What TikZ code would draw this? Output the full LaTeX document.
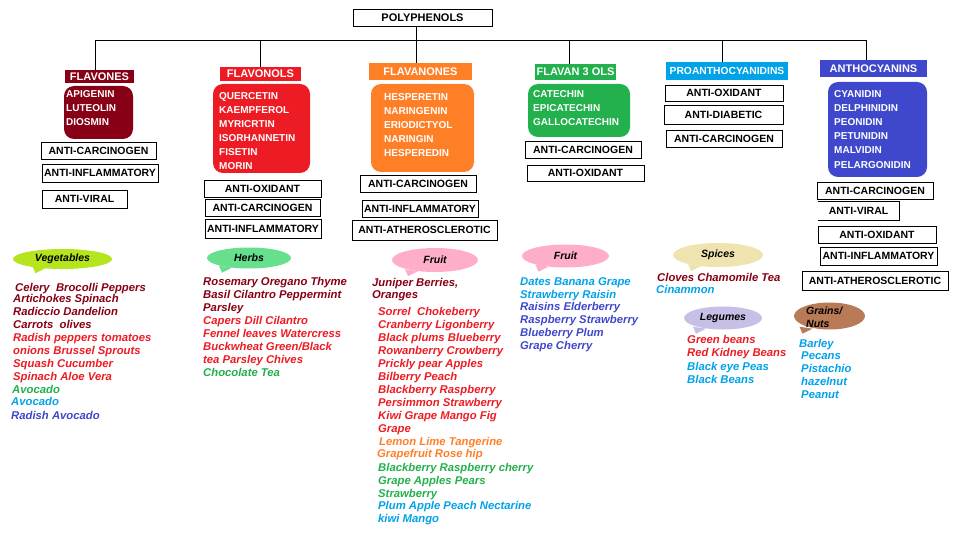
\documentclass[tikz,border=0pt]{standalone}
\usepackage{fontspec}
\setmainfont{Liberation Sans}
\usetikzlibrary{shapes.geometric,calc}
\definecolor{cdred}{HTML}{880015}
\definecolor{cred}{HTML}{ED1C24}
\definecolor{corange}{HTML}{FF7F27}
\definecolor{cgreen}{HTML}{22B14C}
\definecolor{cblue}{HTML}{00A2E8}
\definecolor{cindigo}{HTML}{3F48CC}
\definecolor{clime}{HTML}{B5E61D}
\definecolor{cherb}{HTML}{66E08C}
\definecolor{cpink}{HTML}{FFAEC9}
\definecolor{ctan}{HTML}{EFE4B0}
\definecolor{clav}{HTML}{C8BFE7}
\definecolor{cbrown}{HTML}{B97A57}
\tikzset{
 hdr/.style={rectangle, inner sep=0pt, text=white, font=\fontsize{11}{12}\selectfont\bfseries},
 bodybox/.style={rectangle, rounded corners=10pt, inner sep=0pt},
 bodytxt/.style={anchor=base west, inner sep=0pt, text=white, font=\fontsize{10}{12}\selectfont\bfseries},
 ben/.style={rectangle, draw=black, line width=0.9pt, inner sep=0pt, font=\fontsize{10.5}{12}\selectfont\bfseries},
 item/.style={anchor=base west, inner sep=0pt, font=\fontsize{11.3}{13}\selectfont\bfseries\itshape},
 bub/.style={ellipse, inner sep=0pt, font=\fontsize{10.5}{12}\selectfont\bfseries\itshape},
 link/.style={draw=black, line width=0.9pt},
}
\newcommand\bubtail[2]{\fill[#2] ($(#1.south)+(-30,-3)$) -- ($(#1.south)+(-27,4)$) -- ($(#1.south)+(-17,-1)$) -- cycle;}
\begin{document}
\begin{tikzpicture}[x=1pt,y=-1pt]
\useasboundingbox[fill=white] (0,0) rectangle (960,540);

% root
\node[ben, minimum width=139, minimum height=17, font=\fontsize{11}{12}\selectfont\bfseries] (poly) at (422.5,17.5) {POLYPHENOLS};

% headers
\node[hdr, fill=cdred, minimum width=69, minimum height=13] (fvn) at (99.5,76.5) {FLAVONES};
\node[hdr, fill=cred, minimum width=81, minimum height=14] (fvl) at (260.5,74) {FLAVONOLS};
\node[hdr, fill=corange, minimum width=103, minimum height=17] (fnn) at (420.5,71.5) {FLAVANONES};
\node[hdr, fill=cgreen, minimum width=81, minimum height=16] (f3o) at (575.5,72) {FLAVAN 3 OLS};
\node[hdr, fill=cblue, minimum width=122, minimum height=18, font=\fontsize{10.3}{12}\selectfont\bfseries] (pro) at (727,71) {PROANTHOCYANIDINS};
\node[hdr, fill=cindigo, minimum width=107, minimum height=17] (ant) at (873.5,68.5) {ANTHOCYANINS};

% connectors
\coordinate (j1) at (95,40);
\coordinate (j2) at (260,40);
\coordinate (j3) at (416,40);
\coordinate (j4) at (569,40);
\coordinate (j5) at (722,40);
\coordinate (j6) at (866,40);
\draw[link] (j1) -- (j6);
\draw[link] (j1) -- (j1 |- fvn.north);
\draw[link] (j2) -- (j2 |- fvl.north);
\draw[link] (poly.south -| j3) -- (j3 |- fnn.north);
\draw[link] (j4) -- (j4 |- f3o.north);
\draw[link] (j5) -- (j5 |- pro.north);
\draw[link] (j6) -- (j6 |- ant.north);

% bodies
\node[bodybox, fill=cdred, minimum width=69, minimum height=53] (fvnb) at (98.5,112.5) {};
\node[bodybox, fill=cred, minimum width=97, minimum height=89] (fvlb) at (261.5,128.5) {};
\node[bodybox, fill=corange, minimum width=103, minimum height=88] (fnnb) at (422.5,128) {};
\node[bodybox, fill=cgreen, minimum width=102, minimum height=53] (f3ob) at (579,110.5) {};
\node[bodybox, fill=cindigo, minimum width=99, minimum height=95] (antb) at (877.5,129.5) {};

\foreach \t [count=\i] in {APIGENIN,LUTEOLIN,DIOSMIN}
  \node[bodytxt] (fvnt\i) at (66,84+14*\i) {\t};
\foreach \t [count=\i] in {QUERCETIN,KAEMPFEROL,MYRICRTIN,ISORHANNETIN,FISETIN,MORIN}
  \node[bodytxt] (fvlt\i) at (219,86+14*\i) {\t};
\foreach \t [count=\i] in {HESPERETIN,NARINGENIN,ERIODICTYOL,NARINGIN,HESPEREDIN}
  \node[bodytxt] (fnnt\i) at (384,87+14*\i) {\t};
\foreach \t [count=\i] in {CATECHIN,EPICATECHIN,GALLOCATECHIN}
  \node[bodytxt] (f3ot\i) at (533,84+14*\i) {\t};
\foreach \t [count=\i] in {CYANIDIN,DELPHINIDIN,PEONIDIN,PETUNIDIN,MALVIDIN,PELARGONIDIN}
  \node[bodytxt] (antt\i) at (834,84+14*\i) {\t};

% benefit boxes
\node[ben, minimum width=115, minimum height=17] (b11) at (98.5,150.5) {ANTI-CARCINOGEN};
\node[ben, minimum width=116, minimum height=18] (b12) at (100,173) {ANTI-INFLAMMATORY};
\node[ben, minimum width=85, minimum height=18] (b13) at (84.5,199) {ANTI-VIRAL};

\node[ben, minimum width=117, minimum height=17] (b21) at (262.5,188.5) {ANTI-OXIDANT};
\node[ben, minimum width=115, minimum height=17] (b22) at (262.5,207.5) {ANTI-CARCINOGEN};
\node[ben, minimum width=116, minimum height=19] (b23) at (263,228.5) {ANTI-INFLAMMATORY};

\node[ben, minimum width=116, minimum height=17] (b31) at (418,183.5) {ANTI-CARCINOGEN};
\node[ben, minimum width=116, minimum height=17] (b32) at (420,208.5) {ANTI-INFLAMMATORY};
\node[ben, minimum width=145, minimum height=20] (b33) at (424.5,230) {ANTI-ATHEROSCLEROTIC};

\node[ben, minimum width=116, minimum height=17] (b41) at (583,149.5) {ANTI-CARCINOGEN};
\node[ben, minimum width=117, minimum height=16] (b42) at (585.5,173) {ANTI-OXIDANT};

\node[ben, minimum width=118, minimum height=16] (b51) at (724,93) {ANTI-OXIDANT};
\node[ben, minimum width=119, minimum height=19] (b52) at (723.5,114.5) {ANTI-DIABETIC};
\node[ben, minimum width=116, minimum height=17] (b53) at (724,138.5) {ANTI-CARCINOGEN};

\node[ben, minimum width=116, minimum height=17] (b61) at (875,190.5) {ANTI-CARCINOGEN};
\node[ben, draw=none, minimum width=81, minimum height=18] (b62) at (858.5,211) {ANTI-VIRAL};
\draw[line width=0.9pt] (b62.north west) -- (b62.north east) -- (b62.south east) -- (b62.south west);
\node[ben, minimum width=118, minimum height=17] (b63) at (877,234.5) {ANTI-OXIDANT};
\node[ben, minimum width=117, minimum height=18] (b64) at (878.5,256) {ANTI-INFLAMMATORY};
\node[ben, minimum width=146, minimum height=19] (b65) at (875,280.5) {ANTI-ATHEROSCLEROTIC};

% bubbles
\node[bub, fill=clime, minimum width=99, minimum height=20] (veg) at (62.5,259) {Vegetables};
\bubtail{veg}{clime}
\node[bub, fill=cherb, minimum width=84, minimum height=21] (herb) at (249,258) {Herbs};
\bubtail{herb}{cherb}
\node[bub, fill=cpink, minimum width=86, minimum height=24] (fr1) at (435,260) {Fruit};
\bubtail{fr1}{cpink}
\node[bub, fill=cpink, minimum width=87, minimum height=23] (fr2) at (565.5,256) {Fruit};
\bubtail{fr2}{cpink}
\node[bub, fill=ctan, minimum width=90, minimum height=24] (spi) at (718,255) {Spices};
\bubtail{spi}{ctan}
\node[bub, fill=clav, minimum width=78, minimum height=23] (leg) at (723,318) {Legumes};
\bubtail{leg}{clav}
\node[bub, fill=cbrown, minimum width=71, minimum height=27] (gra) at (829.5,316) {};
\bubtail{gra}{cbrown}
\node[item, font=\fontsize{10.5}{12}\selectfont\bfseries\itshape] (grat1) at (806,314) {Grains/};
\node[item, font=\fontsize{10.5}{12}\selectfont\bfseries\itshape] (grat2) at (806,327) {Nuts};

% lists
\foreach \t/\c/\px/\py [count=\i] in {
  Celery\ \ Brocolli Peppers/cdred/15/291,
  Artichokes Spinach/cdred/13/302,
  Radiccio Dandelion/cdred/13/315,
  Carrots\ \ olives/cdred/13/328,
  Radish peppers tomatoes/cred/13/341,
  onions Brussel Sprouts/cred/13/354,
  Squash Cucumber/cred/13/367,
  Spinach Aloe Vera/cred/13/380,
  Avocado/cgreen/12/393,
  Avocado/cblue/11/405,
  Radish Avocado/cindigo/11/419}
  \node[item, text=\c] (vegl\i) at (\px,\py) {\t};

\foreach \t/\c/\px/\py [count=\i] in {
  Rosemary Oregano Thyme/cdred/203/285,
  Basil Cilantro Peppermint/cdred/203/298,
  Parsley/cdred/203/311,
  Capers Dill Cilantro/cred/203/324,
  Fennel leaves Watercress/cred/203/337,
  {Buckwheat Green/Black}/cred/203/350,
  tea Parsley Chives/cred/203/363,
  Chocolate Tea/cgreen/203/376}
  \node[item, text=\c] (herbl\i) at (\px,\py) {\t};

\foreach \t/\c/\px/\py [count=\i] in {
  {Juniper Berries,}/cdred/372/286,
  Oranges/cdred/372/298,
  Sorrel\ \ Chokeberry/cred/378/315,
  Cranberry Ligonberry/cred/378/328,
  Black plums Blueberry/cred/378/341,
  Rowanberry Crowberry/cred/378/354,
  Prickly pear Apples/cred/378/367,
  Bilberry Peach/cred/378/380,
  Blackberry Raspberry/cred/378/393,
  Persimmon Strawberry/cred/378/406,
  Kiwi Grape Mango Fig/cred/378/419,
  Grape/cred/378/432,
  Lemon Lime Tangerine/corange/379/445,
  Grapefruit Rose hip/corange/377/457,
  Blackberry Raspberry cherry/cgreen/378/471,
  Grape Apples Pears/cgreen/378/484,
  Strawberry/cgreen/378/497,
  Plum Apple Peach Nectarine/cblue/378/509,
  kiwi Mango/cblue/378/522}
  \node[item, text=\c] (fr1l\i) at (\px,\py) {\t};

\foreach \t/\c/\px/\py [count=\i] in {
  Dates Banana Grape/cblue/520/285,
  Strawberry Raisin/cblue/520/298,
  Raisins Elderberry/cindigo/520/310,
  Raspberry Strawberry/cindigo/520/323,
  Blueberry Plum/cindigo/520/336,
  Grape Cherry/cindigo/520/349}
  \node[item, text=\c] (fr2l\i) at (\px,\py) {\t};

\foreach \t/\c/\px/\py [count=\i] in {
  Cloves Chamomile Tea/cdred/657/281,
  Cinammon/cblue/656/293}
  \node[item, text=\c] (spil\i) at (\px,\py) {\t};

\foreach \t/\c/\px/\py [count=\i] in {
  Green beans/cred/687/343,
  Red Kidney Beans/cred/687/356,
  Black eye Peas/cblue/687/370,
  Black Beans/cblue/687/383}
  \node[item, text=\c] (legl\i) at (\px,\py) {\t};

\foreach \t/\c/\px/\py [count=\i] in {
  Barley/cblue/799/347,
  Pecans/cblue/801/359,
  Pistachio/cblue/801/372,
  hazelnut/cblue/801/385,
  Peanut/cblue/801/398}
  \node[item, text=\c] (gral\i) at (\px,\py) {\t};
\end{tikzpicture}
\end{document}
